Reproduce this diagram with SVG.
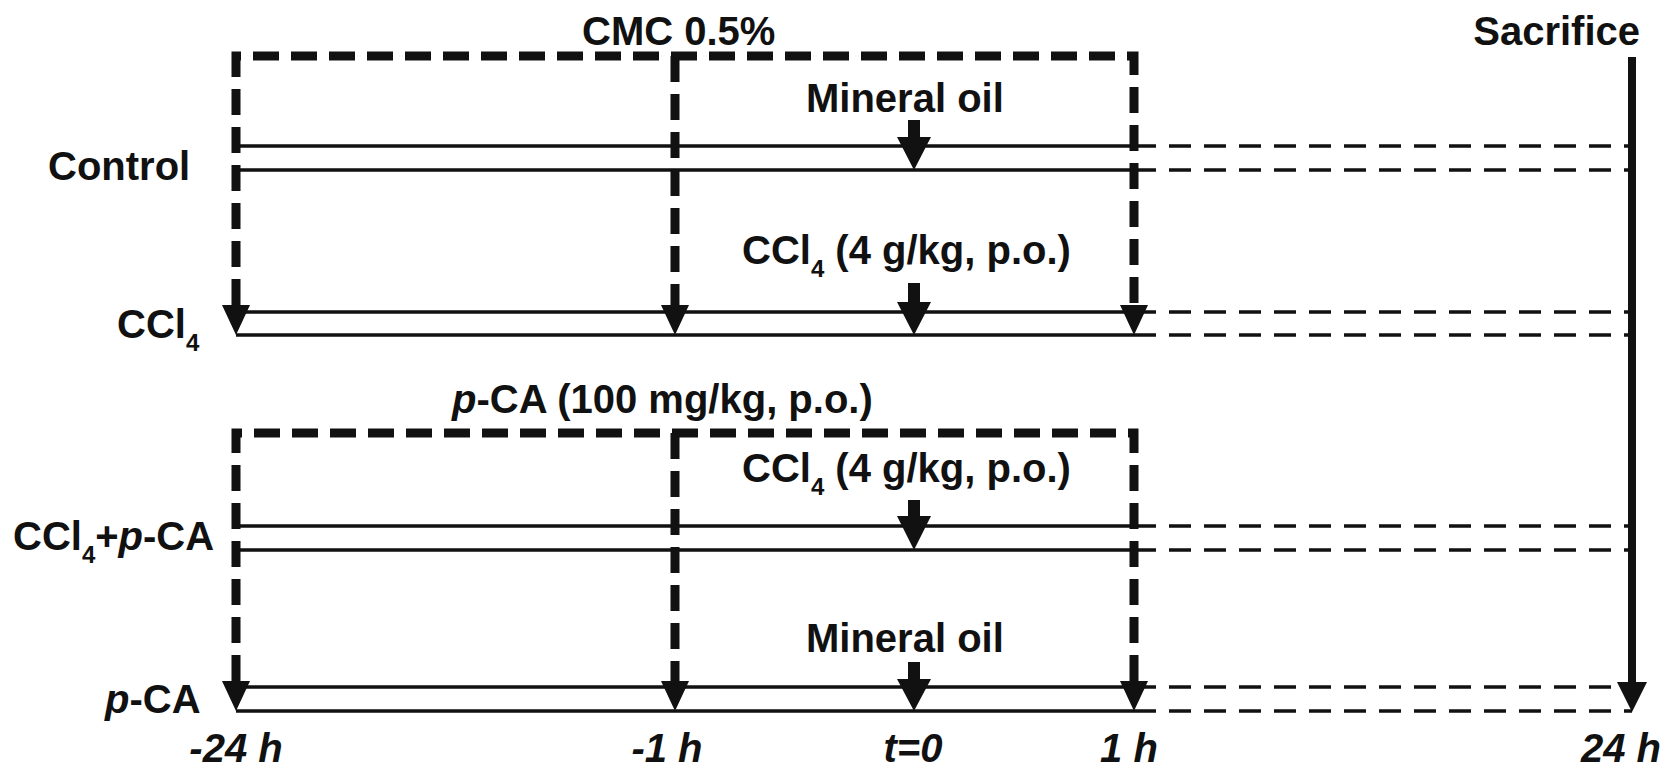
<svg xmlns="http://www.w3.org/2000/svg" width="1677" height="779" viewBox="0 0 1677 779">
<style>
text{font-family:"Liberation Sans",Arial,sans-serif;font-weight:bold;font-size:40px;fill:#111}
.t{font-style:italic;text-anchor:middle}
.sub{font-size:24px}
.thick{fill:none;stroke:#111;stroke-width:9;stroke-dasharray:26 12}
.thin{fill:none;stroke:#111;stroke-width:3.5}
.tdash{fill:none;stroke:#111;stroke-width:3.5;stroke-dasharray:22 13}
.head{fill:#111}
.sac{fill:none;stroke:#111;stroke-width:8}
</style>
<rect width="1677" height="779" fill="#fff"/>

<g id="connectors">
  <!-- timeline lines -->
  <path class="thin" d="M236,146H1134M236,170H1134M236,312H1134M236,335H1134M236,526H1134M236,550H1134M236,687H1134M236,711H1134"/>
  <path class="tdash" d="M1134,146H1632M1134,170H1632M1134,312H1632M1134,335H1632M1134,526H1632M1134,550H1632M1134,687H1632M1134,711H1632"/>
  <!-- sacrifice -->
  <path class="sac" d="M1632,57V684"/>
  <polygon class="head" points="1617,682 1647,682 1632,712"/>
</g>

<g id="box-cmc">
  <text x="582" y="45">CMC 0.5%</text>
  <path class="thick" d="M236,305V56H1134V305"/>
  <path class="thick" d="M675,56V305"/>
  <polygon class="head" points="222,305 250,305 236,335"/>
  <polygon class="head" points="661,305 689,305 675,335"/>
  <polygon class="head" points="1120,305 1148,305 1134,335"/>
</g>

<g id="box-pca">
  <text x="452" y="413"><tspan font-style="italic">p</tspan>-CA (100 mg/kg, p.o.)</text>
  <path class="thick" d="M236,681V433H1134V681"/>
  <path class="thick" d="M675,433V681"/>
  <polygon class="head" points="222,681 250,681 236,711"/>
  <polygon class="head" points="661,681 689,681 675,711"/>
  <polygon class="head" points="1120,681 1148,681 1134,711"/>
</g>

<g id="group-control">
  <text x="48" y="180">Control</text>
  <text x="806" y="112">Mineral oil</text>
  <polygon class="head" points="908,120 920,120 920,137 931,137 914,170 897,137 908,137"/>
</g>

<g id="group-ccl4">
  <text x="117" y="338">CCl<tspan class="sub" dy="13">4</tspan></text>
  <text x="742" y="264">CCl<tspan class="sub" dy="13">4</tspan><tspan dy="-13"> (4 g/kg, p.o.)</tspan></text>
  <polygon class="head" points="908,283 920,283 920,302 931,302 914,335 897,302 908,302"/>
</g>

<g id="group-ccl4-pca">
  <text x="13" y="550">CCl<tspan class="sub" dy="13">4</tspan><tspan dy="-13">+</tspan><tspan font-style="italic">p</tspan>-CA</text>
  <text x="742" y="482">CCl<tspan class="sub" dy="13">4</tspan><tspan dy="-13"> (4 g/kg, p.o.)</tspan></text>
  <polygon class="head" points="908,500 920,500 920,516 931,516 914,550 897,516 908,516"/>
</g>

<g id="group-pca">
  <text x="105" y="713"><tspan font-style="italic">p</tspan>-CA</text>
  <text x="806" y="652">Mineral oil</text>
  <polygon class="head" points="908,662 920,662 920,679 931,679 914,711 897,679 908,679"/>
</g>

<g id="group-sacrifice">
  <text x="1640" y="45" text-anchor="end">Sacrifice</text>
</g>

<g id="time-axis">
  <text class="t" x="236" y="762">-24 h</text>
  <text class="t" x="667" y="762">-1 h</text>
  <text class="t" x="913" y="762">t=0</text>
  <text class="t" x="1129" y="762">1 h</text>
  <text class="t" x="1621" y="762">24 h</text>
</g>
</svg>
